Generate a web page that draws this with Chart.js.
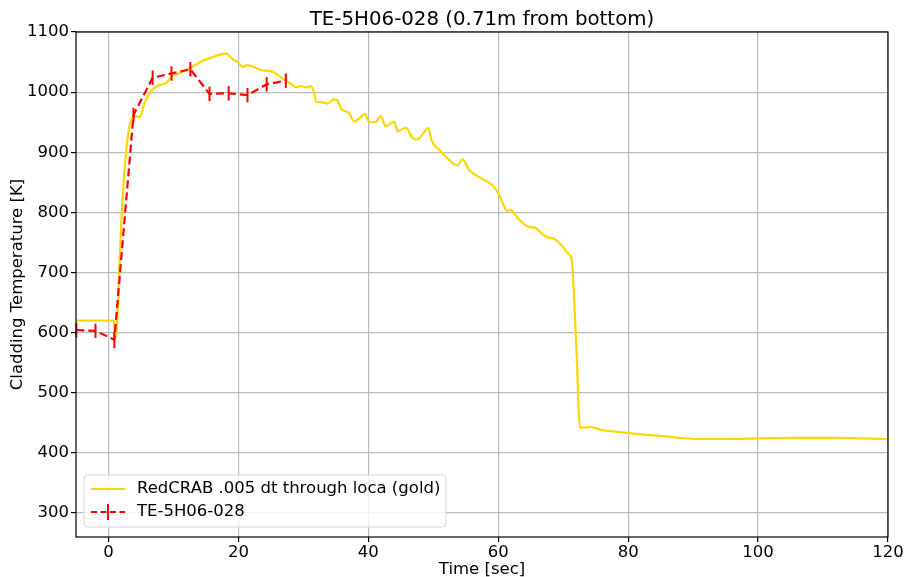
<!DOCTYPE html>
<html>
<head>
<meta charset="utf-8">
<script src="https://cdn.jsdelivr.net/npm/chart.js@4.4.1/dist/chart.umd.min.js"></script>
<style>
  html, body { margin: 0; padding: 0; background: #fff; }
  #wrap { width: 906px; height: 577px; }
</style>
</head>
<body>
<div id="wrap"><canvas id="c" width="906" height="577"></canvas></div>
<script>
// RedCRAB run (gold line)
const calcTime = [
    -5, 0.8, 1.0, 1.15, 1.65, 2.05, 2.7, 3.5, 4.2, 4.8, 5.5, 6.3, 7.5, 8.8, 9.8,
    11.4, 12.9, 14.5, 16.0, 17.0, 18.1, 19.1, 20.1, 20.6, 21.4, 22.7, 23.7, 25.0,
    26.0, 27.3, 28.3, 28.8, 29.6, 30.4, 31.1, 31.6, 32.0, 32.9, 33.7, 34.7, 35.2,
    35.9, 37.0, 37.8, 38.8, 39.5, 40.1, 41.1, 41.9, 42.7, 44.0, 44.5, 45.8, 46.8,
    47.5, 48.3, 49.2, 49.8, 50.9, 51.9, 53.7, 54.5, 55.5, 57.0, 59.1, 60.1, 60.9,
    61.4, 61.9, 62.4, 63.2, 64.7, 65.5, 67.3, 68.6, 69.8, 70.9, 71.3, 72.0, 72.6,
    74.2, 76.0, 79.1, 82.7, 85.2, 87.8, 90.9, 95.5, 100.1, 105.8, 111.4, 116, 120,
];
const calcTemp = [
    620, 620, 600, 593, 705, 800, 900, 954, 960, 958, 980, 998, 1010, 1015, 1026,
    1034, 1042, 1052, 1058, 1062, 1064, 1055, 1048, 1042, 1045, 1040, 1036, 1035,
    1029, 1019, 1012, 1008, 1010, 1008, 1010, 1001, 984, 983, 981, 988, 987,
    971, 966, 951, 958, 964, 950, 950, 960, 943, 951, 935, 941, 924,
    921, 929, 940, 918, 904, 893, 878, 888, 871, 859, 845, 830, 810,
    802, 804, 799, 788, 776, 775, 760, 756, 745, 730, 722, 580, 442,
    443, 438, 434, 430, 428, 425, 423, 423, 424, 425, 425, 424, 423,
];

// Mesures TE-5H06-028 (rouge, avec barres d'erreur)
const measTime = [-4.95, -2.0, 0.9, 3.85, 6.8, 9.7, 12.6, 15.55, 18.5, 21.4, 24.35, 27.3];
const measTemp = [604, 603, 588, 962, 1024, 1031, 1038, 997, 998, 995, 1013, 1019];
const measErr  = [12, 12, 14, 12, 12, 12, 12, 12, 12, 12, 12, 12];

const xTicks = [0, 20, 40, 60, 80, 100, 120];
const yTicks = [300, 400, 500, 600, 700, 800, 900, 1000, 1100];

const titleText = 'TE-5H06-028 (0.71m from bottom)';
const calcLabel = 'RedCRAB .005 dt through loca (gold)';
const measLabel = 'TE-5H06-028';

const GOLD = '#ffd700';
const RED = '#ff0000';
const FONT = "'DejaVu Sans', sans-serif";
const TXT = 16.5;

Chart.defaults.font.family = FONT;
Chart.defaults.color = '#000';

const fond = {
    id: 'fond',
    beforeDraw(chart) {
        const { ctx } = chart;
        ctx.save();
        ctx.fillStyle = '#fff';
        ctx.fillRect(0, 0, chart.width, chart.height);
        ctx.restore();
    },
};

// barres d'erreur verticales sur la série mesurée
const barres = {
    id: 'barres',
    afterDatasetsDraw(chart) {
        const { ctx, scales } = chart;
        const x = scales.x, y = scales.y;
        ctx.save();
        ctx.strokeStyle = RED;
        ctx.lineWidth = 2;
        measTime.forEach((t, i) => {
            const px = x.getPixelForValue(t);
            ctx.beginPath();
            ctx.moveTo(px, y.getPixelForValue(measTemp[i] - measErr[i]));
            ctx.lineTo(px, y.getPixelForValue(measTemp[i] + measErr[i]));
            ctx.stroke();
        });
        ctx.restore();
    },
};

// cadre, titre et légende façon matplotlib
const habillage = {
    id: 'habillage',
    afterDraw(chart) {
        const { ctx, chartArea: a } = chart;
        ctx.save();
        ctx.strokeStyle = '#000';
        ctx.lineWidth = 1.2;
        ctx.strokeRect(a.left, a.top, a.right - a.left, a.bottom - a.top);

        ctx.fillStyle = '#000';
        ctx.font = '19.8px ' + FONT;
        ctx.textAlign = 'center';
        ctx.textBaseline = 'middle';
        ctx.fillText(titleText, (a.left + a.right) / 2, 19.5);

        // légende
        const lx = 84, ly = 475, lw = 362, lh = 52, r = 4;
        ctx.beginPath();
        ctx.moveTo(lx + r, ly);
        ctx.arcTo(lx + lw, ly, lx + lw, ly + lh, r);
        ctx.arcTo(lx + lw, ly + lh, lx, ly + lh, r);
        ctx.arcTo(lx, ly + lh, lx, ly, r);
        ctx.arcTo(lx, ly, lx + lw, ly, r);
        ctx.closePath();
        ctx.fillStyle = 'rgba(255,255,255,0.8)';
        ctx.fill();
        ctx.strokeStyle = '#d6d6d6';
        ctx.lineWidth = 1;
        ctx.stroke();

        ctx.lineWidth = 2;
        ctx.strokeStyle = GOLD;
        ctx.beginPath();
        ctx.moveTo(91, 489);
        ctx.lineTo(125, 489);
        ctx.stroke();

        ctx.strokeStyle = RED;
        ctx.setLineDash([6, 3.5]);
        ctx.beginPath();
        ctx.moveTo(91, 512);
        ctx.lineTo(125, 512);
        ctx.stroke();
        ctx.setLineDash([]);
        ctx.beginPath();
        ctx.moveTo(108, 504);
        ctx.lineTo(108, 520);
        ctx.stroke();

        ctx.fillStyle = '#000';
        ctx.font = TXT + 'px ' + FONT;
        ctx.textAlign = 'left';
        ctx.fillText(calcLabel, 137, 489);
        ctx.fillText(measLabel, 137, 512);
        ctx.restore();
    },
};

new Chart(document.getElementById('c'), {
    type: 'scatter',
    data: {
        datasets: [
            {
                label: calcLabel,
                data: calcTime.map((t, i) => ({ x: t, y: calcTemp[i] })),
                showLine: true,
                borderColor: GOLD,
                backgroundColor: GOLD,
                borderWidth: 2.2,
                pointRadius: 0,
                cubicInterpolationMode: 'monotone',
                order: 2,
            },
            {
                label: measLabel,
                data: measTime.map((t, i) => ({ x: t, y: measTemp[i] })),
                showLine: true,
                borderColor: RED,
                backgroundColor: RED,
                borderWidth: 2.2,
                borderDash: [8, 4],
                pointRadius: 0,
                order: 1,
            },
        ],
    },
    options: {
        responsive: false,
        animation: false,
        devicePixelRatio: 1,
        layout: { padding: { left: 0, right: 18, top: 32, bottom: 0 } },
        scales: {
            x: {
                type: 'linear',
                min: -5,
                max: 120,
                afterBuildTicks: s => { s.ticks = xTicks.map(v => ({ value: v })); },
                afterFit: s => { s.height = 40; },
                grid: {
                    color: 'rgba(176,176,176,0.85)',
                    lineWidth: 1.2,
                    tickColor: '#000',
                    tickLength: 5,
                },
                border: { display: false },
                ticks: { font: { size: TXT }, padding: 1, maxRotation: 0, callback: v => String(v) },
                title: {
                    display: true,
                    text: 'Time [sec]',
                    font: { size: TXT },
                    padding: { top: 0, bottom: -3 },
                },
            },
            y: {
                min: 260,
                max: 1100,
                afterBuildTicks: s => { s.ticks = yTicks.map(v => ({ value: v })); },
                afterFit: s => { s.width = 76; },
                grid: {
                    color: 'rgba(176,176,176,0.85)',
                    lineWidth: 1.2,
                    tickColor: '#000',
                    tickLength: 5,
                },
                border: { display: false },
                ticks: { font: { size: TXT }, padding: 2, callback: v => String(v) },
                title: {
                    display: true,
                    text: 'Cladding Temperature [K]',
                    font: { size: TXT },
                    padding: { top: 8, bottom: 0 },
                },
            },
        },
        plugins: {
            legend: { display: false },
            tooltip: { enabled: false },
        },
    },
    plugins: [fond, barres, habillage],
});
</script>
</body>
</html>
